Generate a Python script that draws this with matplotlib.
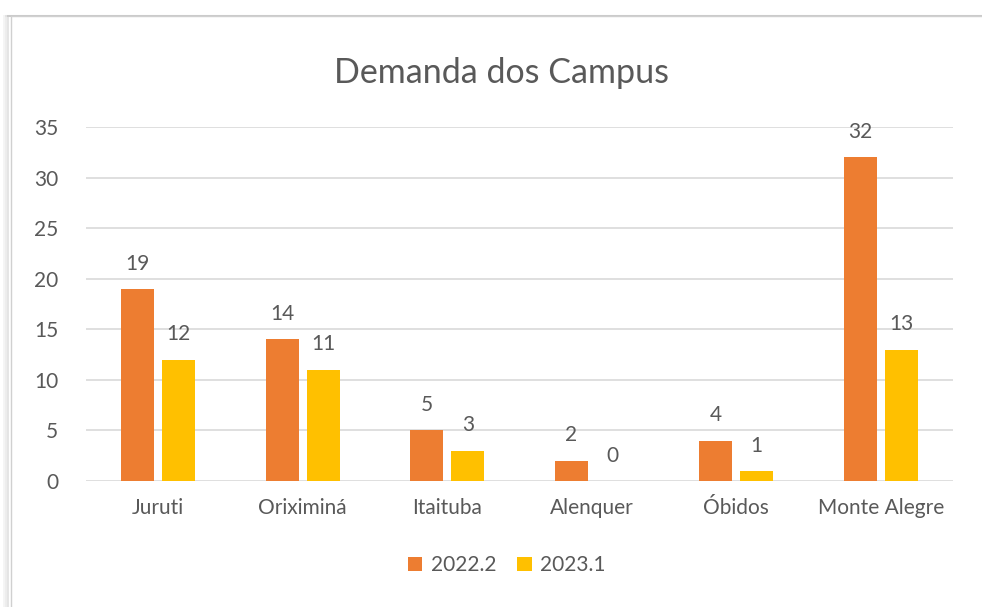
import numpy as np
import matplotlib.pyplot as plt
from matplotlib.patches import Rectangle

campus = ["Juruti", "Oriximiná", "Itaituba", "Alenquer", "Óbidos", "Monte Alegre"]
demanda_2022_2 = [19, 14, 5, 2, 4, 32]
demanda_2023_1 = [12, 11, 3, 0, 1, 13]
series_names = ["2022.2", "2023.1"]

ORANGE = "#ED7D31"
YELLOW = "#FFC000"
TEXT = "#595959"
GRID = "#D9D9D9"

plt.rcParams["font.family"] = ["Lato", "DejaVu Sans"]

fig = plt.figure(figsize=(9.82, 6.07), dpi=100)

# chart frame with a soft shadow on the left
for i, a in enumerate([0.10, 0.07, 0.04]):
    fig.patches.append(Rectangle((0.008 - i * 0.002, -0.02), 1.05, 0.994,
                                 transform=fig.transFigure, facecolor="none",
                                 edgecolor="black", alpha=a, lw=1.5, zorder=-3))
fig.patches.append(Rectangle((0.011, -0.02), 1.05, 0.994, transform=fig.transFigure,
                             facecolor="white", edgecolor="#D0D0D0", lw=1, zorder=-2))

ax = fig.add_axes([0.0876, 0.2076, 0.8829, 0.5832])
x = np.arange(len(campus))
w = 0.23
off = 0.142

b1 = ax.bar(x - off, demanda_2022_2, w, color=ORANGE, label=series_names[0], zorder=3)
b2 = ax.bar(x + off, demanda_2023_1, w, color=YELLOW, label=series_names[1], zorder=3)

for bars in (b1, b2):
    ax.bar_label(bars, padding=11, fontsize=15, color=TEXT)

ax.set_xlim(-0.5, len(campus) - 0.5)
ax.set_ylim(0, 35)
ax.set_yticks(range(0, 36, 5))
ax.set_xticks(x)
ax.set_xticklabels(campus)
ax.tick_params(axis="both", length=0, labelsize=15, labelcolor=TEXT)
ax.tick_params(axis="x", pad=12)
ax.tick_params(axis="y", pad=20)
ax.grid(axis="y", color=GRID, lw=1.2, zorder=0)
for s in ax.spines.values():
    s.set_visible(False)
ax.set_facecolor("none")

fig.text(0.511, 0.879, "Demanda dos Campus", ha="center", va="center",
         fontsize=24.5, color=TEXT)

fig.legend(handles=[b1, b2], loc="center", bbox_to_anchor=(0.516, 0.069), ncol=2,
           frameon=False, fontsize=15, labelcolor=TEXT, handlelength=0.7,
           handleheight=0.7, handletextpad=0.4, columnspacing=1.0)

fig.savefig("out.png", dpi=100)
